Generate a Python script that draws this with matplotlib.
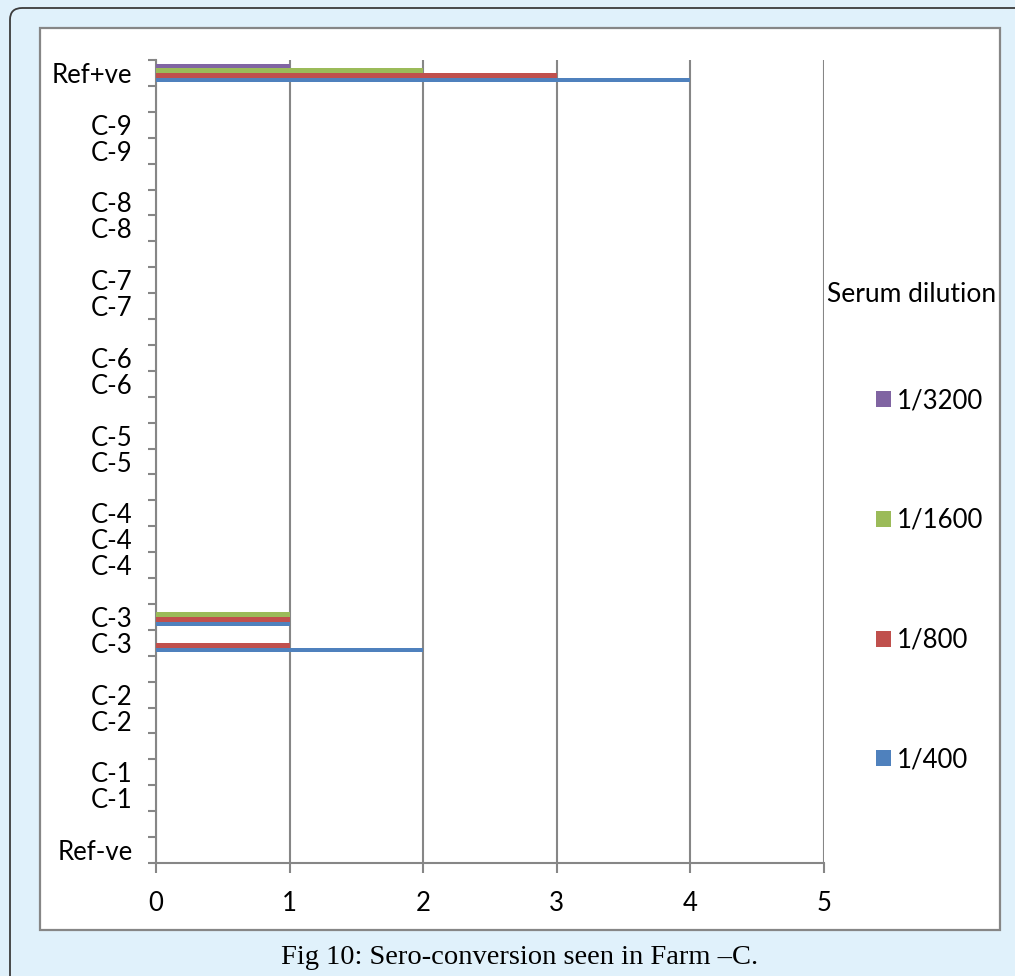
import numpy as np
import matplotlib
matplotlib.use("Agg")
import matplotlib.pyplot as plt
from matplotlib.patches import FancyBboxPatch, Rectangle

# Sample rows, bottom to top (empty strings are spacer rows between groups)
categories = ["Ref-ve", "", "C-1", "C-1", "", "C-2", "C-2", "", "C-3", "C-3", "",
              "C-4", "C-4", "C-4", "", "C-5", "C-5", "", "C-6", "C-6", "",
              "C-7", "C-7", "", "C-8", "C-8", "", "C-9", "C-9", "", "Ref+ve"]

dil_400 = [0, 0, 0, 0, 0, 0, 0, 0, 2, 1, 0, 0, 0, 0, 0, 0, 0, 0, 0, 0, 0, 0, 0, 0, 0, 0, 0, 0, 0, 0, 4]
dil_800 = [0, 0, 0, 0, 0, 0, 0, 0, 1, 1, 0, 0, 0, 0, 0, 0, 0, 0, 0, 0, 0, 0, 0, 0, 0, 0, 0, 0, 0, 0, 3]
dil_1600 = [0, 0, 0, 0, 0, 0, 0, 0, 0, 1, 0, 0, 0, 0, 0, 0, 0, 0, 0, 0, 0, 0, 0, 0, 0, 0, 0, 0, 0, 0, 2]
dil_3200 = [0, 0, 0, 0, 0, 0, 0, 0, 0, 0, 0, 0, 0, 0, 0, 0, 0, 0, 0, 0, 0, 0, 0, 0, 0, 0, 0, 0, 0, 0, 1]

series_names = ["1/400", "1/800", "1/1600", "1/3200"]
series_values = [dil_400, dil_800, dil_1600, dil_3200]
series_colors = ["#4F81BD", "#C0504D", "#9BBB59", "#8064A2"]

x_ticks = [0, 1, 2, 3, 4, 5]

W, H = 1015, 976
DPI = 100
fig = plt.figure(figsize=(W / DPI, H / DPI), dpi=DPI)
fig.patch.set_facecolor("#E0F1FB")

def fx(px):
    return px / W

def fy(py):
    return 1 - py / H

# Outer rounded frame
outer = FancyBboxPatch((fx(10), fy(1100)), fx(1100) - fx(10), fy(8) - fy(1100),
                       boxstyle="round,pad=0,rounding_size=0.012",
                       transform=fig.transFigure, facecolor="#E0F1FB",
                       edgecolor="#3C3C3C", linewidth=1.3, zorder=0)
fig.patches.append(outer)

# Inner white chart area
inner = Rectangle((fx(40), fy(930)), fx(1000) - fx(40), fy(28) - fy(930),
                  transform=fig.transFigure, facecolor="white",
                  edgecolor="#868686", linewidth=1.6, zorder=1)
fig.patches.append(inner)

ax = fig.add_axes([fx(156), fy(863), fx(824) - fx(156), fy(60) - fy(863)])
ax.set_facecolor("none")
ax.set_zorder(2)

n = len(categories)
y = np.arange(n)
bar_h = 1 / 5.5
handles = []
for k, (name, vals, col) in enumerate(zip(series_names, series_values, series_colors)):
    b = ax.barh(y + (k - 1.5) * bar_h, vals, height=bar_h, color=col,
                label=name, zorder=3, linewidth=0)
    handles.append(b)

ax.set_xlim(0, 5)
ax.set_ylim(-0.5, n - 0.5)
ax.set_xticks(x_ticks)
ax.set_xticklabels([str(t) for t in x_ticks])

# Category boundaries carry the tick marks; labels sit at row centres
ax.set_yticks(np.arange(-0.5, n, 1.0))
ax.set_yticklabels([])
ax.set_yticks(y, minor=True)
ax.set_yticklabels(categories, minor=True)

grey = "#868686"
ax.grid(axis="x", color=grey, linewidth=1.5, zorder=1)
ax.set_axisbelow(True)
for s in ["top", "right"]:
    ax.spines[s].set_visible(False)
for s in ["left", "bottom"]:
    ax.spines[s].set_color(grey)
    ax.spines[s].set_linewidth(1.5)

font = "Lato"
fs = 18.5
ax.tick_params(axis="y", which="major", length=6, width=1.5, color=grey, direction="out")
ax.tick_params(axis="y", which="minor", length=0, pad=17, labelsize=fs)
ax.tick_params(axis="x", length=7, width=1.5, color=grey, direction="out", pad=13, labelsize=fs)
for lab in ax.get_xticklabels() + ax.get_yticklabels(minor=True):
    lab.set_fontfamily(font)

# Legend
fig.text(fx(827), fy(295), "Serum dilution", fontsize=19, family=font,
         ha="left", va="center", zorder=5)
leg = fig.legend(handles[::-1], series_names[::-1], loc="upper left",
                 bbox_to_anchor=(fx(876), fy(388)), bbox_transform=fig.transFigure,
                 frameon=False, borderpad=0, borderaxespad=0,
                 handlelength=0.58, handleheight=0.58, handletextpad=0.25,
                 labelspacing=3.69, prop={"family": font, "size": fs})

# Caption
fig.text(fx(520), fy(958), "Fig 10: Sero-conversion seen in Farm \u2013C.",
         fontsize=20.5, family="Liberation Serif", ha="center", va="center")

fig.savefig("out.png", dpi=DPI, facecolor=fig.get_facecolor())
